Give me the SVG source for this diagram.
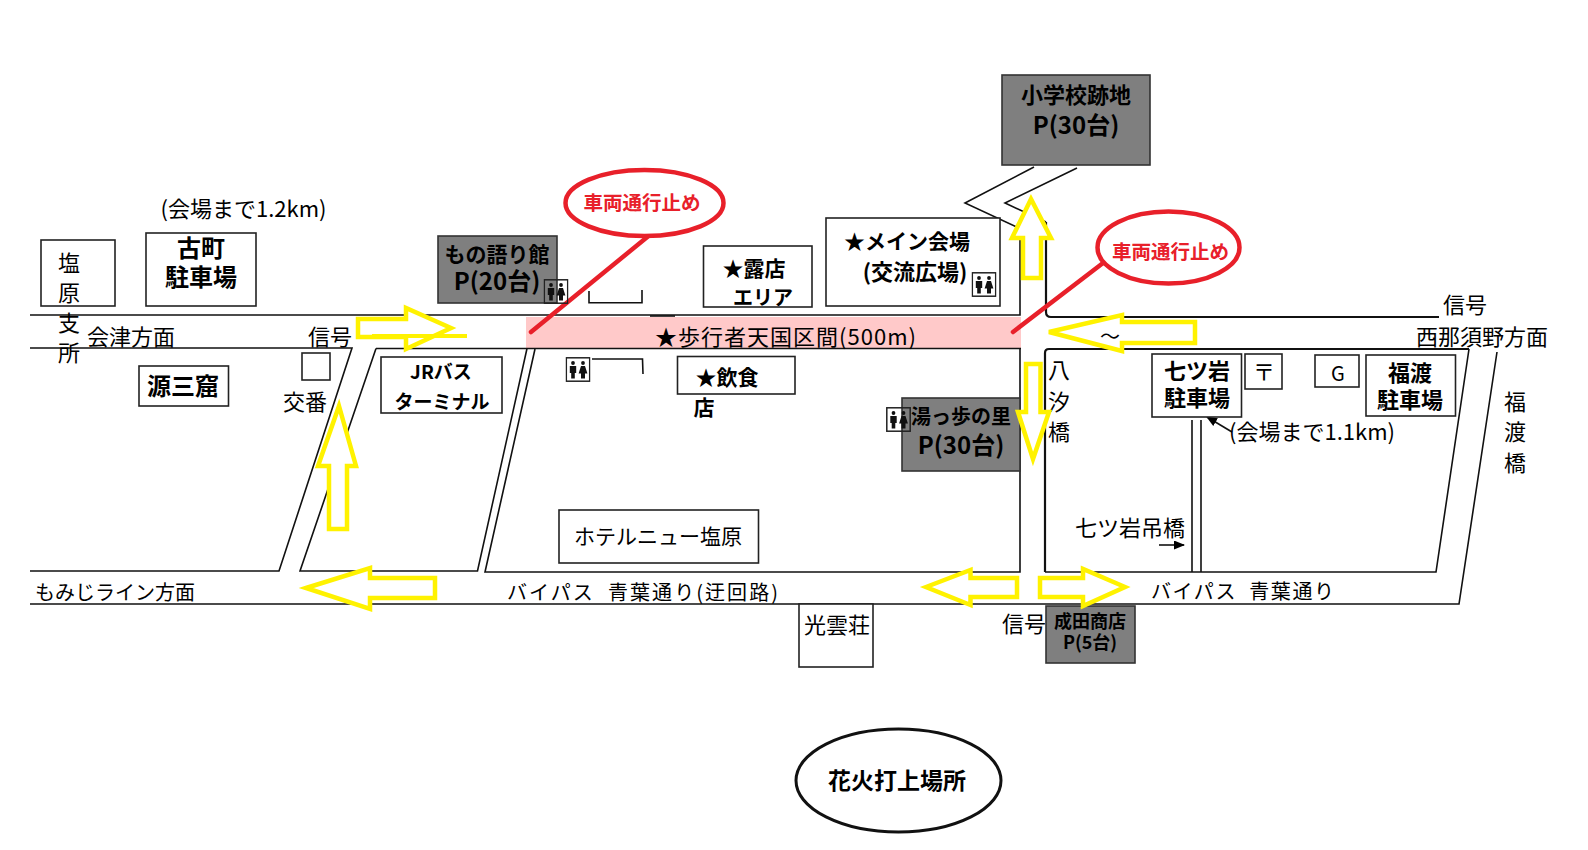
<svg xmlns="http://www.w3.org/2000/svg" width="1588" height="850" viewBox="0 0 1588 850">
<style>
text{font-family:"Noto Sans CJK JP","Noto Sans",sans-serif;fill:#000;font-size:22px;text-anchor:middle;dominant-baseline:central}
.b{font-weight:700}
.f18{font-size:18px}
.f19{font-size:19px}
.f20{font-size:20px}
.f21{font-size:21px}
.f23{font-size:23px}
.f24{font-size:24px}
.r{fill:#e8202a;font-weight:700;font-size:19.500px}
.box{fill:#fff;stroke:#222;stroke-width:1.6}
.gray{fill:#7f7f7f;stroke:#333;stroke-width:1.6}
.road{fill:none;stroke:#111;stroke-width:1.6}
.thick{stroke-width:2.2}
.arrow{fill:#fff;stroke:#fff200;stroke-width:4.5;stroke-linejoin:miter}
.stop{fill:#fff;stroke:#e8202a;stroke-width:4.5}
.stopline{stroke:#e8202a;stroke-width:4.5;stroke-linecap:round}
</style>
<defs>
<symbol id="wc" viewBox="0 0 25 25" width="25" height="25">
<rect x=".8" y=".8" width="23.4" height="23.4" fill="none" stroke="#222" stroke-width="1.5"/>
<circle cx="7.500" cy="6" r="1.900" fill="#111"/>
<path d="M4.300 9h6.400v7h-1.400v5.500h-3.600v-5.500h-1.400z" fill="#111"/>
<circle cx="17.500" cy="6" r="1.900" fill="#111"/>
<path d="M15.500 9h4l2.400 7.500h-2.400v5h-4v-5h-2.400z" fill="#111"/>
</symbol>
<marker id="tip" markerWidth="11" markerHeight="9" refX="10" refY="4.500" orient="auto" markerUnits="userSpaceOnUse"><path d="M0 0L11 4.500L0 9z" fill="#000"/></marker>
</defs>

<g id="connectors">
<path id="band" d="M526 317H1021V349H526z" fill="#ffc9c9"/>
<path class="road" d="M30 315H1020V225"/>
<path class="road" d="M30 348H352L279 571H30"/>
<path class="road" d="M376 348.500H1021M376 348.500L300 571H477.500L527 348.500"/>
<path class="road" d="M535 349L485 572H1020V349"/>
<path class="road" d="M1034 167L965 203L1019 228M1077 168L1005 203L1046 222"/>
<path class="road thick" d="M1046 222V312Q1046 317 1051 317H1439"/>
<path class="road thick" d="M1469 349H1049Q1045 349 1045 353V572"/>
<path class="road" d="M1045 572H1436L1469 349M1192 572V420M1201 572V420"/>
<path class="road" d="M1497 352L1459 604H30"/>
<path class="road" d="M650 316H675" stroke-width="3"/>
<path class="road" d="M589 291V302.700H642V290"/>
<path class="road" d="M592 359H642.500L643 374"/>
<line class="stopline" x1="648.500" y1="236" x2="531" y2="332"/>
<line class="stopline" x1="1103" y1="263" x2="1013" y2="332"/>
<path class="road" d="M1232 432L1207 417" marker-end="url(#tip)"/>
<path class="road" d="M1159 545H1184" marker-end="url(#tip)"/>
</g>

<g id="n-kaikm12"><text x="243.500" y="207">(会場まで1.2km)</text></g>
<g id="n-shiobara"><rect class="box" x="41" y="240" width="74" height="66"/><text x="69" y="261">塩</text><text x="69" y="291">原</text><text x="69" y="321">支</text><text x="69" y="351">所</text></g>
<g id="n-furumachi"><rect class="box" x="146" y="233" width="110" height="73"/><text class="b f24" x="201" y="246">古町</text><text class="b f24" x="201" y="275">駐車場</text></g>
<g id="n-aizu"><text x="131" y="335">会津方面</text></g>
<g id="n-shingo1"><text x="330" y="335">信号</text></g>
<g id="n-koban"><rect class="box" x="302" y="353" width="28" height="27"/><text x="305" y="400">交番</text></g>
<g id="n-genzan"><rect class="box" x="139" y="366" width="89.500" height="40"/><text class="b f24" x="183" y="384">源三窟</text></g>
<g id="n-jr"><rect class="box" x="381" y="357" width="121" height="56"/><text class="b f19" x="441" y="370">JRバス</text><text class="b f19" x="442" y="400">ターミナル</text></g>
<g id="n-mono"><rect class="gray" x="438" y="236" width="119" height="67"/><text class="b f21" x="497" y="253">もの語り館</text><text class="b f24" x="497" y="279">P(20台)</text><use href="#wc" x="543.500" y="279"/></g>
<g id="n-roten"><rect class="box" x="703.500" y="246" width="108.500" height="61"/><text class="b f21" x="754" y="267">★露店</text><text class="b f20" x="763" y="296">エリア</text></g>
<g id="n-main"><rect class="box" x="826" y="218" width="174" height="88"/><text class="b f21" x="907" y="240">★メイン会場</text><text class="b" x="915" y="270">(交流広場)</text><use href="#wc" x="971.500" y="272"/></g>
<g id="n-wc2"><use href="#wc" x="565.500" y="357"/></g>
<g id="n-inshoku"><rect class="box" x="677.500" y="356.500" width="117.500" height="37.500"/><text class="b f21" x="727" y="376">★飲食</text><text class="b f21" x="704" y="406">店</text></g>
<g id="n-yuppo"><rect class="gray" x="902" y="398" width="118" height="73"/><text class="b f20" x="961" y="415">湯っ歩の里</text><text class="b f24" x="961" y="443">P(30台)</text><use href="#wc" x="886" y="407"/></g>
<g id="n-school"><rect class="gray" x="1002" y="75" width="148" height="90"/><text class="b" x="1076" y="93">小学校跡地</text><text class="b f24" x="1076" y="123">P(30台)</text></g>
<g id="n-band"><text x="785.500" y="335" textLength="261">★歩行者天国区間(500m)</text></g>
<g id="n-stop1"><ellipse class="stop" cx="644.500" cy="203" rx="79" ry="33"/><text class="r" x="642" y="201">車両通行止め</text></g>
<g id="n-stop2"><ellipse class="stop" cx="1168.500" cy="247.500" rx="71" ry="36"/><text class="r" x="1170.500" y="250">車両通行止め</text></g>
<g id="n-shingo2"><text x="1465" y="303">信号</text></g>
<g id="n-nishinasu"><text x="1482" y="335">西那須野方面</text></g>
<g id="n-yashio"><text x="1059" y="368">八</text><text x="1059" y="400">汐</text><text x="1059" y="430">橋</text></g>
<g id="n-nanatsu"><rect class="box" x="1152" y="354" width="89.500" height="63"/><text class="b" x="1197" y="369">七ツ岩</text><text class="b" x="1197" y="396">駐車場</text></g>
<g id="n-post"><rect class="box" x="1245" y="354" width="37" height="35"/><text x="1264" y="370">〒</text></g>
<g id="n-g"><rect class="box" x="1315" y="355" width="44" height="32"/><text class="f20" x="1338" y="372">G</text></g>
<g id="n-fukuwata"><rect class="box" x="1366" y="355" width="89.500" height="61"/><text class="b" x="1410" y="371">福渡</text><text class="b" x="1410" y="398">駐車場</text></g>
<g id="n-fukuhashi"><text x="1515" y="400">福</text><text x="1515" y="430">渡</text><text x="1515" y="461">橋</text></g>
<g id="n-kaikm11"><text x="1312" y="430">(会場まで1.1km)</text></g>
<g id="n-tsuribashi"><text x="1130" y="526">七ツ岩吊橋</text></g>
<g id="n-hotel"><rect class="box" x="559" y="510" width="199.500" height="53"/><text x="658" y="535" class="f21">ホテルニュー塩原</text></g>
<g id="n-momiji"><text class="f20" x="115" y="591">もみじライン方面</text></g>
<g id="n-bypass1"><text class="f20" x="642.500" y="591" textLength="271" xml:space="preserve">バイパス  青葉通り(迂回路)</text></g>
<g id="n-bypass2"><text class="f20" x="1242.500" y="590" textLength="183" xml:space="preserve">バイパス  青葉通り</text></g>
<g id="n-kounso"><rect class="box" x="799" y="604" width="74" height="63" stroke-width="2.500"/><text x="837" y="623">光雲荘</text></g>
<g id="n-shingo3"><text x="1024" y="622">信号</text></g>
<g id="n-narita"><rect class="gray" x="1046" y="606" width="89" height="57"/><text class="b f18" x="1090" y="620">成田商店</text><text class="b f18" x="1090" y="641">P(5台)</text></g>
<g id="n-hanabi"><ellipse cx="898.500" cy="780.500" rx="102.500" ry="51.500" fill="#fff" stroke="#111" stroke-width="3"/><text class="b f23" x="897" y="779">花火打上場所</text></g>

<g id="arrows">
<path class="arrow" d="M358 319H406V308L451 328L406 349V337H358z"/>
<path class="road" d="M372 336H467" style="stroke:#fff200;stroke-width:4"/>
<path class="arrow" d="M1049 332L1122 315V322H1195V343H1122V351z"/>
<path class="arrow" d="M306 588L370 568V578H435V598H370V609z"/>
<path class="arrow" d="M926 587L970.500 570V578H1017V597H970.500V605z"/>
<path class="arrow" d="M1040 578H1083V569L1125 587L1083 606V597H1040z"/>
<path class="arrow" d="M339 406L356 466H347V529H329V466H318z"/>
<path class="arrow" d="M1031 199L1051 238H1041V278H1023V238H1012z"/>
<path class="arrow" d="M1026 364H1040.500V412H1049L1033 459L1018 412H1026z"/>
</g>
<g id="n-tilde"><text class="f20" x="1110" y="335">～</text></g>
</svg>
